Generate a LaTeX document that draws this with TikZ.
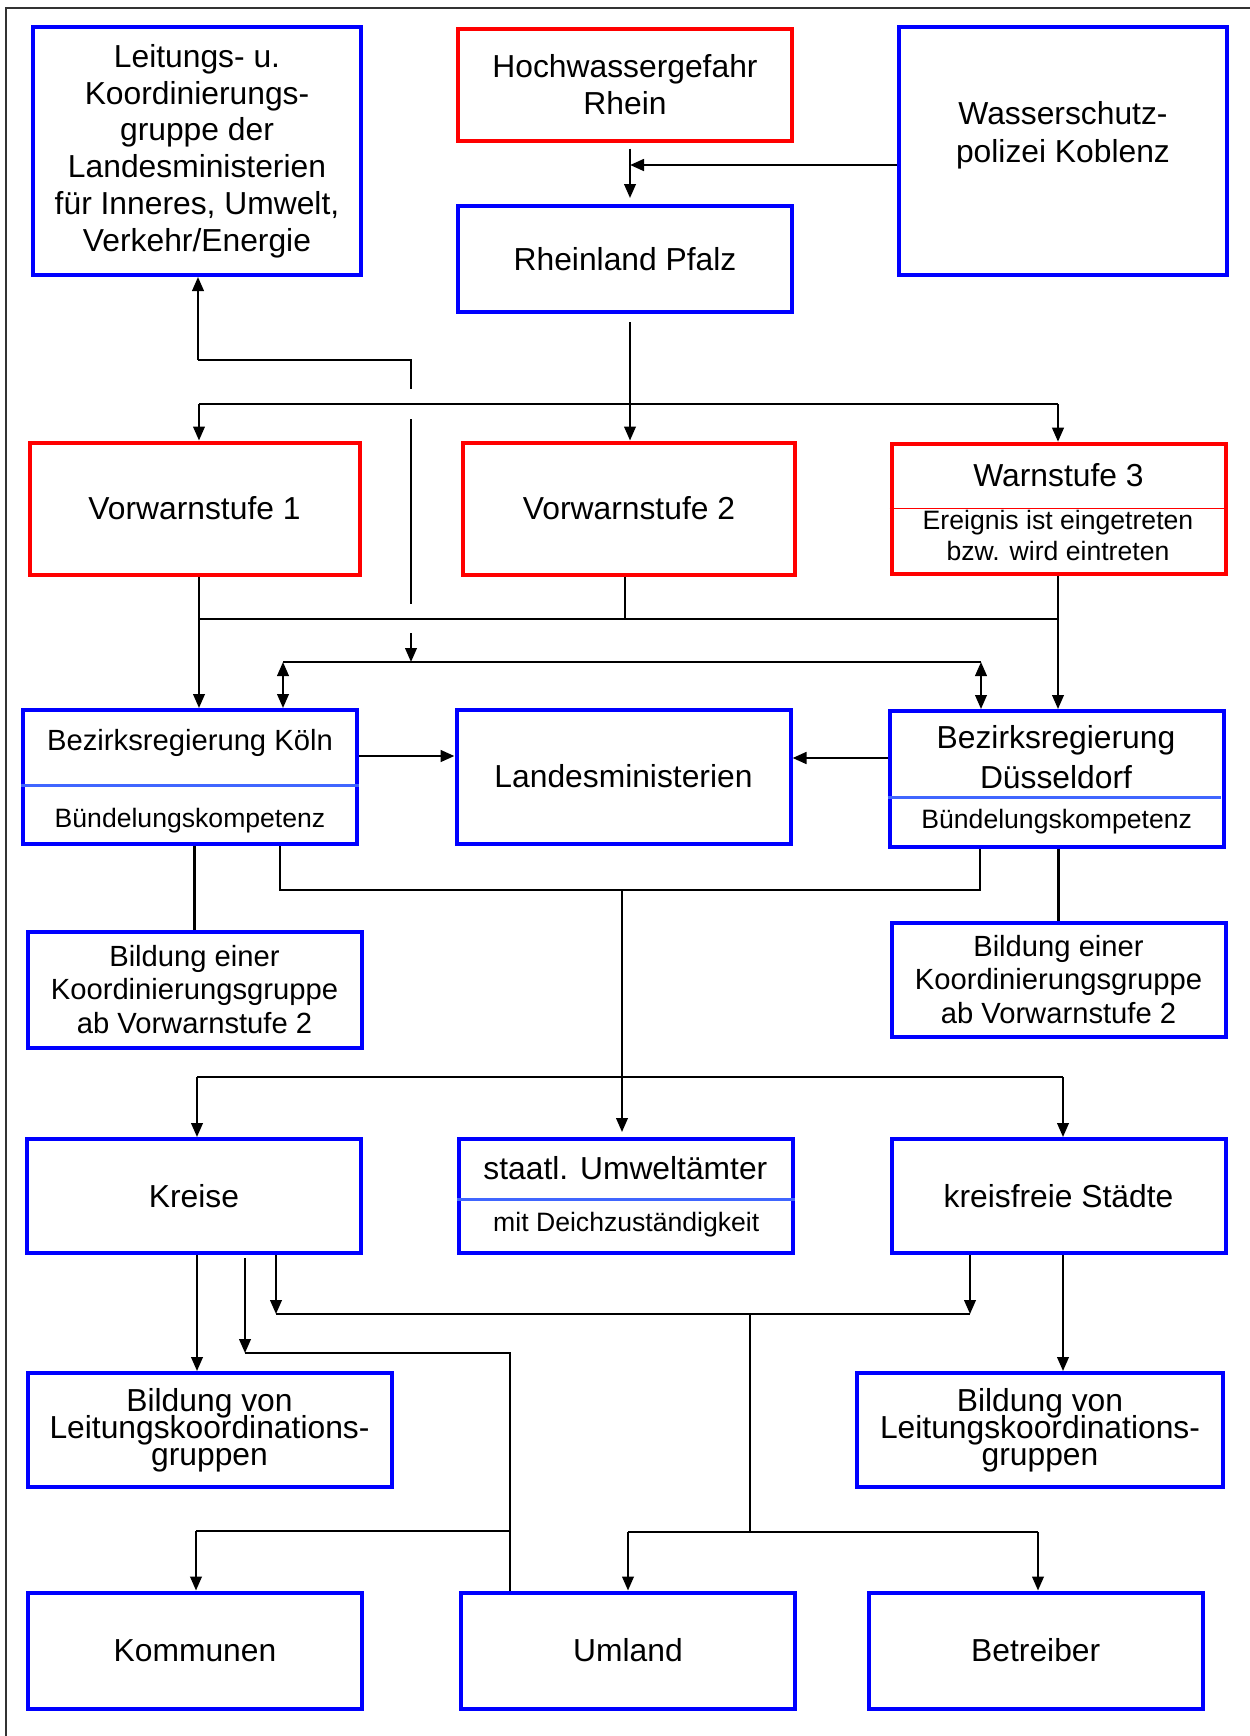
\documentclass[tikz,border=0pt]{standalone}
\usepackage{fontspec}
\setmainfont{Liberation Sans}
\usetikzlibrary{calc}
\usetikzlibrary{arrows.meta}

\newcommand\txtL{\fontsize{15.9}{18.4}\selectfont}
\newcommand\txtM{\fontsize{14.6}{16.7}\selectfont}
\newcommand\txtS{\fontsize{13.3}{15.4}\selectfont}
\newcommand\txtT{\fontsize{15.9}{13.6}\selectfont\lineskiplimit=-20pt\relax}
\definecolor{bblue}{RGB}{0,0,255}
\definecolor{rred}{RGB}{255,0,0}
\definecolor{lblue}{RGB}{64,102,255}

\begin{document}
\begin{tikzpicture}[x=.5pt, y=-.5pt,
  box/.style={draw=bblue, line width=2pt, minimum width=167pt, minimum height=57pt, inner sep=0pt, align=center, font=\txtL},
  rbox/.style={box, draw=rred},
  txt/.style={inner sep=0pt, align=center},
  con/.style={line width=1.05pt},
  arr/.style={con, -{Triangle[length=7pt,width=5.8pt]}},
  dbl/.style={con, {Triangle[length=7pt,width=5.8pt]}-{Triangle[length=7pt,width=5.8pt]}},
  divline/.style={lblue, line width=1.5pt}]

\useasboundingbox (0,0) rectangle (1249,1736);
\draw[line width=1pt, black!80] (6,1760) -- (6,8) -- (1270,8);

\node[box, minimum width=164pt, minimum height=124pt] (lkg) at (197,151) {Leitungs- u.\\Koordinierungs-\\gruppe der\\Landesministerien\\für Inneres, Umwelt,\\Verkehr/Energie};
\node[rbox, minimum height=56pt] (hw) at (625,84.5) {Hochwassergefahr\\Rhein};
\node[box, minimum width=164pt, minimum height=124pt] (wsp) at (1063,151) {};
\node[txt, font=\fontsize{15.9}{19}\selectfont] (wsp-t) at (1063,135) {Wasserschutz-\\polizei Koblenz};
\node[box, minimum height=53pt] (rlp) at (625,259) {Rheinland Pfalz};

\node[rbox, minimum width=165pt, minimum height=66pt] (vw1) at (194.5,508.5) {Vorwarnstufe 1};
\node[rbox, minimum width=166pt, minimum height=66pt] (vw2) at (629,508.5) {Vorwarnstufe 2};
\node[rbox, minimum height=65pt] (ws3) at (1058.5,508.7) {};
\node[txt, anchor=base, font=\txtL] (ws3-t) at (1058.5,486.7) {Warnstufe 3};
\node[txt, font=\txtS] (ws3-s) at (1058,535.5) {Ereignis ist eingetreten\\bzw. wird eintreten};
\draw[rred, line width=.6pt] (ws3.west) -- (ws3.east);

\node[box, minimum height=67pt] (koeln) at (190,777) {};
\node[txt, anchor=base, font=\txtM] (koeln-t) at (190,750) {Bezirksregierung Köln};
\node[txt, anchor=base, font=\txtS] (koeln-s) at (190,827.3) {Bündelungskompetenz};
\draw[divline] ([yshift=-4.35pt]koeln.west) -- ([yshift=-4.35pt]koeln.east);
\node[box, minimum height=67pt] (lm) at (623.5,776.5) {Landesministerien};
\node[box, minimum height=68pt] (duess) at (1056.5,779) {};
\node[txt, font=\fontsize{15.9}{20}\selectfont] (duess-t) at (1056,757.5) {Bezirksregierung\\Düsseldorf};
\node[txt, anchor=base, font=\txtS] (duess-s) at (1056.7,828) {Bündelungskompetenz};
\draw[divline] ([yshift=-9pt]duess.west) -- ([yshift=-9pt,xshift=-2.5pt]duess.east);

\node[box, minimum height=58pt, font=\txtM] (kgl) at (194.5,989.5) {Bildung einer\\Koordinierungsgruppe\\ab Vorwarnstufe 2};
\node[box, minimum height=57pt, font=\txtM] (kgr) at (1058.5,979.5) {Bildung einer\\Koordinierungsgruppe\\ab Vorwarnstufe 2};

\node[box] (kreise) at (194,1196) {Kreise};
\node[box] (uwa) at (626,1196) {};
\node[txt, anchor=base, font=\txtL] (uwa-t) at (625.4,1179) {staatl. Umweltämter};
\node[txt, anchor=base, font=\txtS] (uwa-s) at (626.3,1231) {mit Deichzuständigkeit};
\draw[divline] ([yshift=-1.5pt]uwa.west) -- ([yshift=-1.5pt]uwa.east);
\node[box] (kfs) at (1058.5,1196) {kreisfreie Städte};

\node[box, minimum width=182pt, font=\txtT] (lkl) at (209.5,1430) {Bildung von\\Leitungskoordinations-\\gruppen};
\node[box, minimum width=183pt, font=\txtT] (lkr) at (1040,1430) {Bildung von\\Leitungskoordinations-\\gruppen};

\node[box, minimum height=58pt] (kom) at (195,1650.5) {Kommunen};
\node[box, minimum height=58pt] (uml) at (628,1650.5) {Umland};
\node[box, minimum height=58pt] (betr) at (1035.75,1650.5) {Betreiber};

\coordinate (cHW) at (630,165);
\coordinate (jV1) at (199,404); \coordinate (jV2) at (630,404); \coordinate (jV3) at (1058,404);
\coordinate (jL1) at (198,360); \coordinate (jL2) at (411,360); \coordinate (jL3) at (411,662);
\coordinate (g1a) at (411,389); \coordinate (g1b) at (411,419);
\coordinate (g2a) at (411,604); \coordinate (g2b) at (411,633);
\coordinate (jB1) at (199,619); \coordinate (jB2) at (625,619); \coordinate (jB3) at (1058,619);
\coordinate (jD1) at (283,662); \coordinate (jD2) at (981,662);
\coordinate (jKL) at (400,756); \coordinate (jDL) at (840,758);
\coordinate (jK1) at (280,890); \coordinate (jK2) at (980,890); \coordinate (jM) at (622,890);
\coordinate (jU1) at (197,1077); \coordinate (jU2) at (1063,1077);
\coordinate (jA1) at (276,1314); \coordinate (jA2) at (970,1314); \coordinate (jA3) at (750,1314);
\coordinate (jC1) at (245,1353); \coordinate (jC2) at (510,1353);
\coordinate (jC0) at (196,1531); \coordinate (jC3) at (510,1531);
\coordinate (jE1) at (628,1532); \coordinate (jE2) at (1038,1532); \coordinate (jE3) at (750,1532);

\draw[arr, shorten <=3pt, shorten >=3pt] (hw.south -| cHW) -- (rlp.north -| cHW);
\draw[arr, line width=1.4pt] (wsp.west |- cHW) -- (cHW);
\draw[arr, shorten <=4pt] (rlp.south -| jV2) -- (vw2.north -| jV2);
\draw[con] (jV1) -- (jV3);

\draw[arr] (jL1) -- (lkg.south -| jL1);
\draw[con] (jL1) -- (jL2) -- (g1a);
\draw[con] (g1b) -- (g2a);
\draw[arr] (g2b) -- (jL3);

\draw[arr] (vw1.south -| jB1) -- (koeln.north -| jB1);
\draw[con] (vw2.south -| jB2) -- (jB2);
\draw[arr] (ws3.south -| jB3) -- (duess.north -| jB3);
\draw[con] (jB1) -- (jB3);

\draw[con] (jD1) -- (jD2);
\draw[dbl] (jD1) -- (koeln.north -| jD1);
\draw[dbl] (jD2) -- (duess.north -| jD2);
\draw[arr, line width=1.4pt] (koeln.east |- jKL) -- (lm.west |- jKL);
\draw[arr, line width=1.4pt] (duess.west |- jDL) -- (lm.east |- jDL);

\draw[con] (koeln.south -| kgl.north) -- (kgl.north);
\draw[con] (duess.south -| kgr.north) -- (kgr.north);
\draw[con] (koeln.south -| jK1) -- (jK1) -- (jK2) -- (duess.south -| jK2);
\draw[arr, shorten >=2.5pt] (jM) -- (uwa.north -| jM);
\draw[con] (jU1) -- (jU2);

\draw[arr] (kreise.south -| jU1) -- (lkl.north -| jU1);
\draw[arr] (kfs.south -| jU2) -- (lkr.north -| jU2);
\draw[arr, shorten <=1.5pt] (kreise.south -| jC1) -- (jC1);
\draw[con] (jC1) -- (jC2) -- (uml.north -| jC2);
\draw[con] (jC0) -- (jC3);
\draw[arr] (kreise.south -| jA1) -- (jA1);
\draw[arr] (kfs.south -| jA2) -- (jA2);
\draw[con] (jA1) -- (jA2);
\draw[con] (jA3) -- (jE3);
\draw[con] (jE1) -- (jE2);

\foreach \c/\n in {jV1/vw1, jV3/ws3, jU1/kreise, jU2/kfs, jC0/kom, jE1/uml, jE2/betr}
  \draw[arr] (\c) -- (\n.north -| \c);

\end{tikzpicture}
\end{document}
